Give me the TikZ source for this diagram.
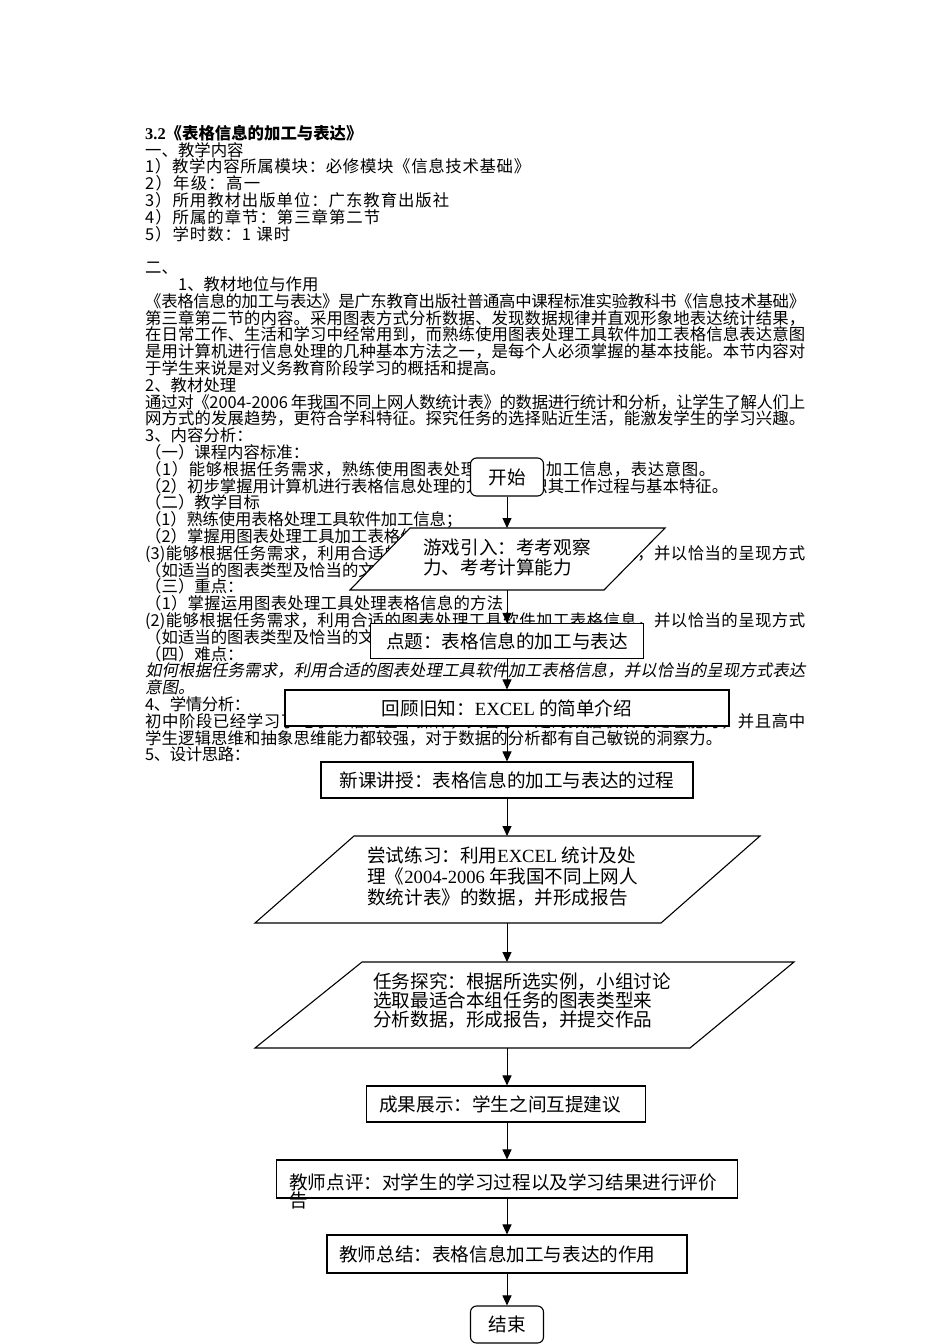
\documentclass[tikz,border=0pt]{standalone}
\usepackage{fontspec}
\setmainfont{Noto Sans CJK SC}
\newfontfamily\tms{Liberation Serif}
\newfontfamily\cjkit{Noto Sans CJK SC}[FakeSlant=0.2]
\usetikzlibrary{arrows.meta}
% character class 7 for CJK ideographs and full-width punctuation (used for justification)
\newcount\cjkcnt
\cjkcnt="4E00
\loop \XeTeXcharclass\cjkcnt=7 \advance\cjkcnt by 1 \ifnum\cjkcnt<"A000 \repeat
\XeTeXcharclass"FF0C=7 \XeTeXcharclass"3002=7 \XeTeXcharclass"3001=7
\XeTeXcharclass"FF1A=7 \XeTeXcharclass"FF1B=7 \XeTeXcharclass"300A=7
\XeTeXcharclass"300B=7 \XeTeXcharclass"FF08=7 \XeTeXcharclass"FF09=7
\XeTeXinterchartoks 7 7 = {\hskip 0pt plus 1pt minus 0.5pt}
\XeTeXinterchartoks 7 0 = {\hskip 0pt plus 1pt minus 0.5pt}
\XeTeXinterchartoks 0 7 = {\hskip 0pt plus 1pt minus 0.5pt}
\newcommand\bodyfont{\fontsize{16.4}{16.8}\selectfont}
\newcommand\flowfont{\fontsize{18.6}{20}\selectfont}
\newcommand\JW[2]{{\XeTeXinterchartokenstate=1 \makebox[#1pt][s]{#2}}}
\newcommand\J[1]{\JW{660}{#1}}
\newcommand\BLine[3]{\node[bodyline] (L#1) at (#2,{139.2+16.8*#1}) {#3};}
\newcommand\FLine[4]{\node[fline] (#1) at (#2,{#3+7.1}) {#4};}
\begin{document}
\begin{tikzpicture}[x=1pt,y=-1pt,
  bodyline/.style={anchor=base west,inner sep=0pt,font=\bodyfont},
  fline/.style={anchor=base west,inner sep=0pt,font=\flowfont},
  fbox/.style={draw,line width=1.1pt,fill=white,inner sep=0pt,font=\flowfont},
  pline/.style={draw,line width=1.1pt,fill=white},
  arr/.style={line width=1pt,-{Triangle[length=10pt,width=9pt]}}]
\useasboundingbox (0,0) rectangle (950,1344);
\fill[white] (0,0) rectangle (950,1344);

% ---------- body text ----------
\BLine{0}{145}{{\bfseries{\tms 3.2}《表格信息的加工与表达》}}
\BLine{1}{145}{一、教学内容}
\BLine{2}{145}{\JW{385}{1）教学内容所属模块：必修模块《信息技术基础》}}
\BLine{3}{145}{\JW{115}{2）年级：高一}}
\BLine{4}{145}{\JW{304}{3）所用教材出版单位：广东教育出版社}}
\BLine{5}{145}{\JW{235}{4）所属的章节：第三章第二节}}
\BLine{6}{145}{\JW{145}{5）学时数：1 课时}}
\BLine{8}{145}{二、}
\BLine{9}{178}{1、教材地位与作用}
\BLine{10}{145}{\J{《表格信息的加工与表达》是广东教育出版社普通高中课程标准实验教科书《信息技术基础》}}
\BLine{11}{145}{\J{第三章第二节的内容。采用图表方式分析数据、发现数据规律并直观形象地表达统计结果，}}
\BLine{12}{145}{\J{在日常工作、生活和学习中经常用到，而熟练使用图表处理工具软件加工表格信息表达意图}}
\BLine{13}{145}{\J{是用计算机进行信息处理的几种基本方法之一，是每个人必须掌握的基本技能。本节内容对}}
\BLine{14}{145}{于学生来说是对义务教育阶段学习的概括和提高。}
\BLine{15}{145}{2、教材处理}
\BLine{16}{145}{\J{通过对《2004-2006 年我国不同上网人数统计表》的数据进行统计和分析，让学生了解人们上}}
\BLine{17}{145}{\J{网方式的发展趋势，更符合学科特征。探究任务的选择贴近生活，能激发学生的学习兴趣。}}
\BLine{18}{145}{3、内容分析：}
\BLine{19}{145}{（一）课程内容标准：}
\BLine{20}{145}{\JW{570}{（1）能够根据任务需求，熟练使用图表处理工具软件加工信息，表达意图。}}
\BLine{21}{145}{\JW{583}{（2）初步掌握用计算机进行表格信息处理的方法，认识其工作过程与基本特征。}}
\BLine{22}{145}{（二）教学目标}
\BLine{23}{145}{\JW{317}{（1）熟练使用表格处理工具软件加工信息；}}
\BLine{24}{145}{（2）掌握用图表处理工具加工表格信息的方法；}
\BLine{25}{145}{\J{(3)能够根据任务需求，利用合适的图表处理工具软件加工表格信息，并以恰当的呈现方式}}
\BLine{26}{145}{（如适当的图表类型及恰当的文字说明）表达意图。}
\BLine{27}{145}{（三）重点：}
\BLine{28}{145}{\JW{358}{（1）掌握运用图表处理工具处理表格信息的方法}}
\BLine{29}{145}{\J{(2)能够根据任务需求，利用合适的图表处理工具软件加工表格信息，并以恰当的呈现方式}}
\BLine{30}{145}{（如适当的图表类型及恰当的文字说明）表达意图。}
\BLine{31}{145}{（四）难点：}
\BLine{32}{145}{{\cjkit\J{如何根据任务需求，利用合适的图表处理工具软件加工表格信息，并以恰当的呈现方式表达}}}
\BLine{33}{145}{{\cjkit 意图。}}
\BLine{34}{145}{\JW{105}{4、学情分析：}}
\BLine{35}{145}{\J{初中阶段已经学习了电子表格的基本操作，具备了一定的数据收集与处理能力，并且高中}}
\BLine{36}{145}{\JW{577}{学生逻辑思维和抽象思维能力都较强，对于数据的分析都有自己敏锐的洞察力。}}
\BLine{37}{145}{\JW{105}{5、设计思路：}}

% ---------- flowchart ----------
\node[fbox,rounded corners=6pt,minimum width=73pt,minimum height=38pt] (start) at (507,477) {开始};

\draw[pline] (410,528) -- (665,528) -- (604,590) -- (350,590) -- cycle;
\coordinate (p1n) at (507,528); \coordinate (p1s) at (507,590);
\FLine{p1a}{423}{547}{游戏引入：考考观察}
\FLine{p1b}{423}{567}{力、考考计算能力}

\node[fbox,minimum width=273pt,minimum height=35pt] (dianti) at (507,641) {点题：表格信息的加工与表达};
\node[fbox,minimum width=444pt,minimum height=36pt] (huigu) at (507,708) {回顾旧知：{\tms EXCEL} 的简单介绍};
\node[fbox,minimum width=372pt,minimum height=36pt] (xinke) at (507,780) {新课讲授：表格信息的加工与表达的过程};

\draw[pline] (354,836) -- (760,836) -- (661,923) -- (255,923) -- cycle;
\coordinate (p2n) at (507,836); \coordinate (p2s) at (507,923);
\FLine{p2a}{367}{855}{尝试练习：利用{\tms EXCEL} 统计及处}
\FLine{p2b}{367}{876}{理《{\tms 2004-2006} 年我国不同上网人}
\FLine{p2c}{367}{897}{数统计表》的数据，并形成报告}

\draw[pline] (362,962) -- (794,962) -- (690,1048) -- (255,1048) -- cycle;
\coordinate (p3n) at (507,962); \coordinate (p3s) at (507,1048);
\FLine{p3a}{373}{981}{任务探究：根据所选实例，小组讨论}
\FLine{p3b}{373}{1000}{选取最适合本组任务的图表类型来}
\FLine{p3c}{373}{1019}{分析数据，形成报告，并提交作品}

\node[fbox,minimum width=279pt,minimum height=36pt] (chengguo) at (506,1104) {};
\FLine{cgt}{379}{1104}{成果展示：学生之间互提建议}

\node[fbox,minimum width=461pt,minimum height=38pt] (dianping) at (507,1179) {};
\FLine{dpa}{289}{1182}{教师点评：对学生的学习过程以及学习结果进行评价}
\FLine{dpb}{289}{1200}{告}

\node[fbox,minimum width=360pt,minimum height=38pt] (zongjie) at (507,1254) {};
\FLine{zjt}{339}{1254}{教师总结：表格信息加工与表达的作用}

\node[fbox,rounded corners=6pt,minimum width=73pt,minimum height=37pt] (finish) at (507,1324.5) {结束};

% ---------- connectors ----------
\draw[arr] (start.south) -- (p1n);
\draw[arr] (p1s) -- (dianti.north);
\draw[arr] (dianti.south) -- (huigu.north);
\draw[arr] (huigu.south) -- (xinke.north);
\draw[arr] (xinke.south) -- (p2n);
\draw[arr] (p2s) -- (p3n);
\draw[arr] (p3s) -- (p3s |- chengguo.north);
\draw[arr] (p3s |- chengguo.south) -- (dianping.north);
\draw[arr] (dianping.south) -- (zongjie.north);
\draw[arr] (zongjie.south) -- (finish.north);
\end{tikzpicture}
\end{document}
